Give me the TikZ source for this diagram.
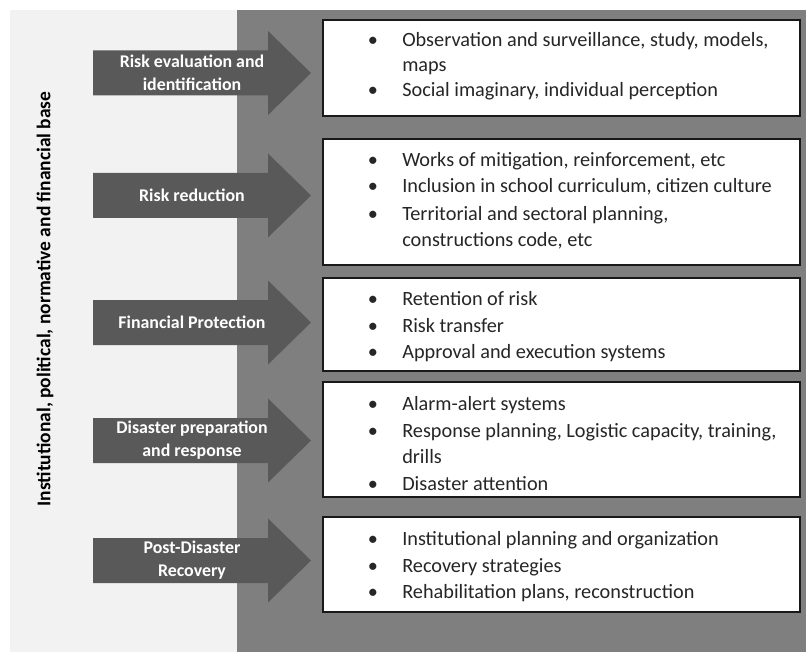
\documentclass[tikz,border=0pt]{standalone}
\usepackage{fontspec}
\setmainfont{Carlito}
\usetikzlibrary{fit}

\definecolor{leftpanel}{HTML}{F2F2F2}
\definecolor{rightpanel}{HTML}{7F7F7F}
\definecolor{arrowfill}{HTML}{595959}
\definecolor{itemtext}{HTML}{262626}

% Block arrow with its label: name, centre y, label text
\newcommand{\stagearrow}[3]{%
  \fill[arrowfill] (93,#2-22.5) -- (268,#2-22.5) -- (268,#2-42) -- (311,#2)
    -- (268,#2+42) -- (268,#2+22.5) -- (93,#2+22.5) -- cycle;
  \node[stagelabel] (#1) at (192,#2) {#3};%
}
% One bulleted line: baseline y, text
\newcommand{\itemline}[2]{%
  \node[itemfont, anchor=base] at (373,#1) {\textbullet};
  \node[itemfont, anchor=base west] at (402,#1) {#2};%
}
% Continuation line of a wrapped item
\newcommand{\contline}[2]{%
  \node[itemfont, anchor=base west] at (402,#1) {#2};%
}

\begin{document}
\begin{tikzpicture}[x=0.75pt, y=-0.75pt,
  stagelabel/.style={text=white, align=center, inner sep=0pt,
    font=\bfseries\fontsize{13.4}{17.25}\selectfont},
  itembox/.style={draw=black!90, line width=1.2pt, fill=white, inner sep=0pt},
  itemfont/.style={text=itemtext, inner sep=0pt,
    font=\fontsize{15.2}{18}\selectfont},
  basefont/.style={font=\bfseries\fontsize{14.6}{16}\selectfont, text=black}
]
\useasboundingbox (0,0) rectangle (806,652);
\fill[white] (0,0) rectangle (806,652);

% Background panels
\fill[leftpanel] (10,10) rectangle (237,652);
\fill[rightpanel] (237,10) rectangle (806,652);

% Vertical caption
\node[basefont, rotate=90] (base) at (45,299)
  {Institutional, political, normative and financial base};

% Stage arrows
\stagearrow{eval}{73}{Risk evaluation and\\identification}
\stagearrow{reduce}{195.5}{Risk reduction}
\stagearrow{finance}{322.5}{Financial Protection}
\stagearrow{prepare}{440.5}{Disaster preparation\\and response}
\stagearrow{recover}{560.5}{Post-Disaster\\Recovery}

% Item boxes
\node[itembox, fit={(323,20)(800,116)}] (box1) {};
\node[itembox, fit={(323,139)(800,265)}] (box2) {};
\node[itembox, fit={(323,278)(800,371)}] (box3) {};
\node[itembox, fit={(323,382)(800,497)}] (box4) {};
\node[itembox, fit={(323,517)(800,612)}] (box5) {};

% Box 1
\itemline{47}{Observation and surveillance, study, models,}
\contline{72}{maps}
\itemline{97}{Social imaginary, individual perception}

% Box 2
\itemline{167}{Works of mitigation, reinforcement, etc}
\itemline{193}{Inclusion in school curriculum, citizen culture}
\itemline{221}{Territorial and sectoral planning,}
\contline{247}{constructions code, etc}

% Box 3
\itemline{305}{Retention of risk}
\itemline{332}{Risk transfer}
\itemline{358}{Approval and execution systems}

% Box 4
\itemline{410}{Alarm-alert systems}
\itemline{437}{Response planning, Logistic capacity, training,}
\contline{463}{drills}
\itemline{490}{Disaster attention}

% Box 5
\itemline{545}{Institutional planning and organization}
\itemline{572}{Recovery strategies}
\itemline{598}{Rehabilitation plans, reconstruction}
\end{tikzpicture}
\end{document}
